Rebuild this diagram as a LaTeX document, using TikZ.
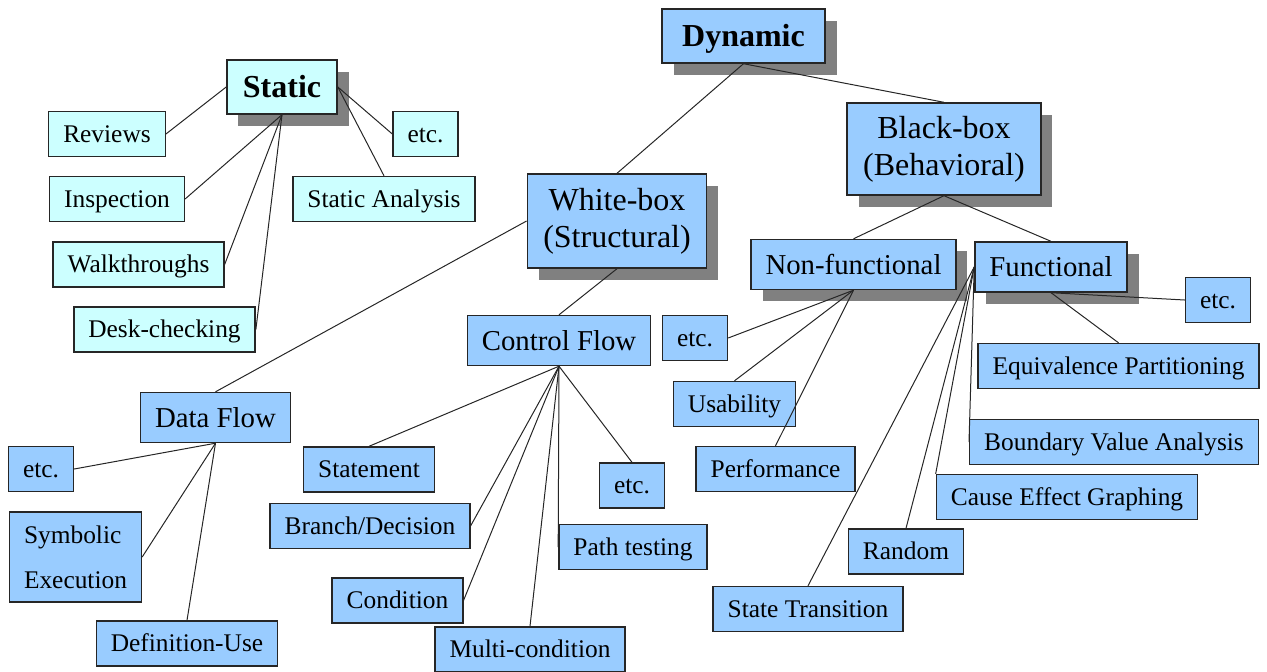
\documentclass[tikz,border=0pt]{standalone}
\usepackage{fontspec}
\setmainfont{Liberation Serif}
\usetikzlibrary{shadows}
\definecolor{paleCyan}{HTML}{CCFFFF}
\definecolor{skyBlue}{HTML}{99CCFF}

\begin{document}
\begin{tikzpicture}[x=0.5pt, y=-0.5pt,
    box/.style = {draw=black!85, line width=0.7pt, inner xsep=7.25pt, inner ysep=0pt},
    leafS/.style = {box, fill=paleCyan, minimum height=22.5pt, text height=8.4pt, text depth=0pt, font=\fontsize{12.7}{15}\selectfont},
    leafD/.style = {leafS, fill=skyBlue},
    mid/.style = {leafD, minimum height=25pt, text height=9.5pt, font=\fontsize{14.4}{17}\selectfont},
    shade/.style = {general shadow={fill=black!50, shadow xshift=5.75pt, shadow yshift=-5.75pt}},
    top/.style = {box, shade, inner xsep=8pt, minimum height=27pt, align=center, font=\fontsize{16}{18.5}\selectfont},
    link/.style = {black!85, line width=0.5pt}]
    \useasboundingbox (0,0) rectangle (1267,671);

    % static side
    \node[top, fill=paleCyan, text height=10.7pt, text depth=0pt, font=\fontsize{16}{18.5}\selectfont\bfseries] (static) at (282,87) {Static};
    \node[leafS] (reviews) at (107,134) {Reviews};
    \node[leafS] (inspect) at (117,199) {Inspection};
    \node[leafS] (walk) at (138.5,264.5) {Walkthroughs};
    \node[leafS] (desk) at (164.5,329.5) {Desk-checking};
    \node[leafS] (setc) at (425.5,134) {etc.};
    \node[leafS] (sanalysis) at (384,199) {Static Analysis};

    % dynamic side, upper levels
    \node[top, fill=skyBlue, minimum width=81.5pt, text height=10.7pt, text depth=0pt, font=\fontsize{16}{18.5}\selectfont\bfseries] (dynamic) at (743.5,36) {Dynamic};
    \node[top, fill=skyBlue, minimum height=47pt] (white) at (617,221) {White-box\\(Structural)};
    \node[top, fill=skyBlue, minimum height=46pt] (black) at (944,149) {Black-box\\(Behavioral)};
    \node[mid, shade] (nonfunc) at (853.5,264.5) {Non-functional};
    \node[mid, shade] (func) at (1051,267) {Functional};
    \node[mid] (control) at (559,340.5) {Control Flow};
    \node[mid] (dataflow) at (215.5,417.5) {Data Flow};

    % data flow leaves
    \node[leafD] (dfetc) at (41,469) {etc.};
    \node[leafD, text height={}, text depth={}, align=left, minimum height=45pt, font=\fontsize{12.7}{22.5}\selectfont] (symbolic) at (75.5,557) {Symbolic\\Execution};
    \node[leafD] (defuse) at (187,643.5) {Definition-Use};

    % control flow leaves
    \node[leafD] (statement) at (369,469.5) {Statement};
    \node[leafD] (branch) at (370,526) {Branch/Decision};
    \node[leafD] (condition) at (397.5,600.5) {Condition};
    \node[leafD] (multi) at (530,649.5) {Multi-condition};
    \node[leafD] (path) at (633,547) {Path testing};
    \node[leafD] (cfetc) at (632,485.5) {etc.};

    % non-functional leaves
    \node[leafD] (nfetc) at (695,338) {etc.};
    \node[leafD] (usability) at (734.5,404) {Usability};
    \node[leafD] (perf) at (775.5,469) {Performance};

    % functional leaves
    \node[leafD] (fetc) at (1218,300) {etc.};
    \node[leafD] (equiv) at (1118.5,366) {Equivalence Partitioning};
    \node[leafD] (boundary) at (1114,442) {Boundary Value Analysis};
    \node[leafD] (cause) at (1067,497) {Cause Effect Graphing};
    \node[leafD] (random) at (906,551.5) {Random};
    \node[leafD] (state) at (808,609) {State Transition};

    % connectors
    \draw[link] (static.west) -- (reviews.east);
    \draw[link] (static.south) -- (inspect.east);
    \draw[link] (static.south) -- (walk.east);
    \draw[link] (static.south) -- (desk.east);
    \draw[link] (static.east) -- (setc.west);
    \draw[link] (static.east) -- (sanalysis.north);

    \draw[link] (dynamic.south) -- (white.north);
    \draw[link] (dynamic.south) -- (black.north);
    \draw[link] (white.west) -- (dataflow.north);
    \draw[link] (white.south) -- (control.north);
    \draw[link] (black.south) -- (nonfunc.north);
    \draw[link] (black.south) -- (func.north);

    \draw[link] (dataflow.south) -- (dfetc.east);
    \draw[link] (dataflow.south) -- (symbolic.east);
    \draw[link] (dataflow.south) -- (defuse.north);

    \draw[link] (control.south) -- (statement.north);
    \draw[link] (control.south) -- (branch.east);
    \draw[link] (control.south) -- (condition.east);
    \draw[link] (control.south) -- (multi.north);
    \draw[link] (control.south) -- (path.west);
    \draw[link] (control.south) -- (cfetc.north);

    \draw[link] (nonfunc.south) -- (nfetc.east);
    \draw[link] (nonfunc.south) -- (usability.north);
    \draw[link] (nonfunc.south) -- (perf.north);

    \draw[link] (func.south) -- (fetc.west);
    \draw[link] (func.south) -- (equiv.north);
    \draw[link] (func.west) -- (boundary.west);
    \draw[link] (func.west) -- (cause.north west);
    \draw[link] (func.west) -- (random.north);
    \draw[link] (func.west) -- (state.north);
\end{tikzpicture}
\end{document}
